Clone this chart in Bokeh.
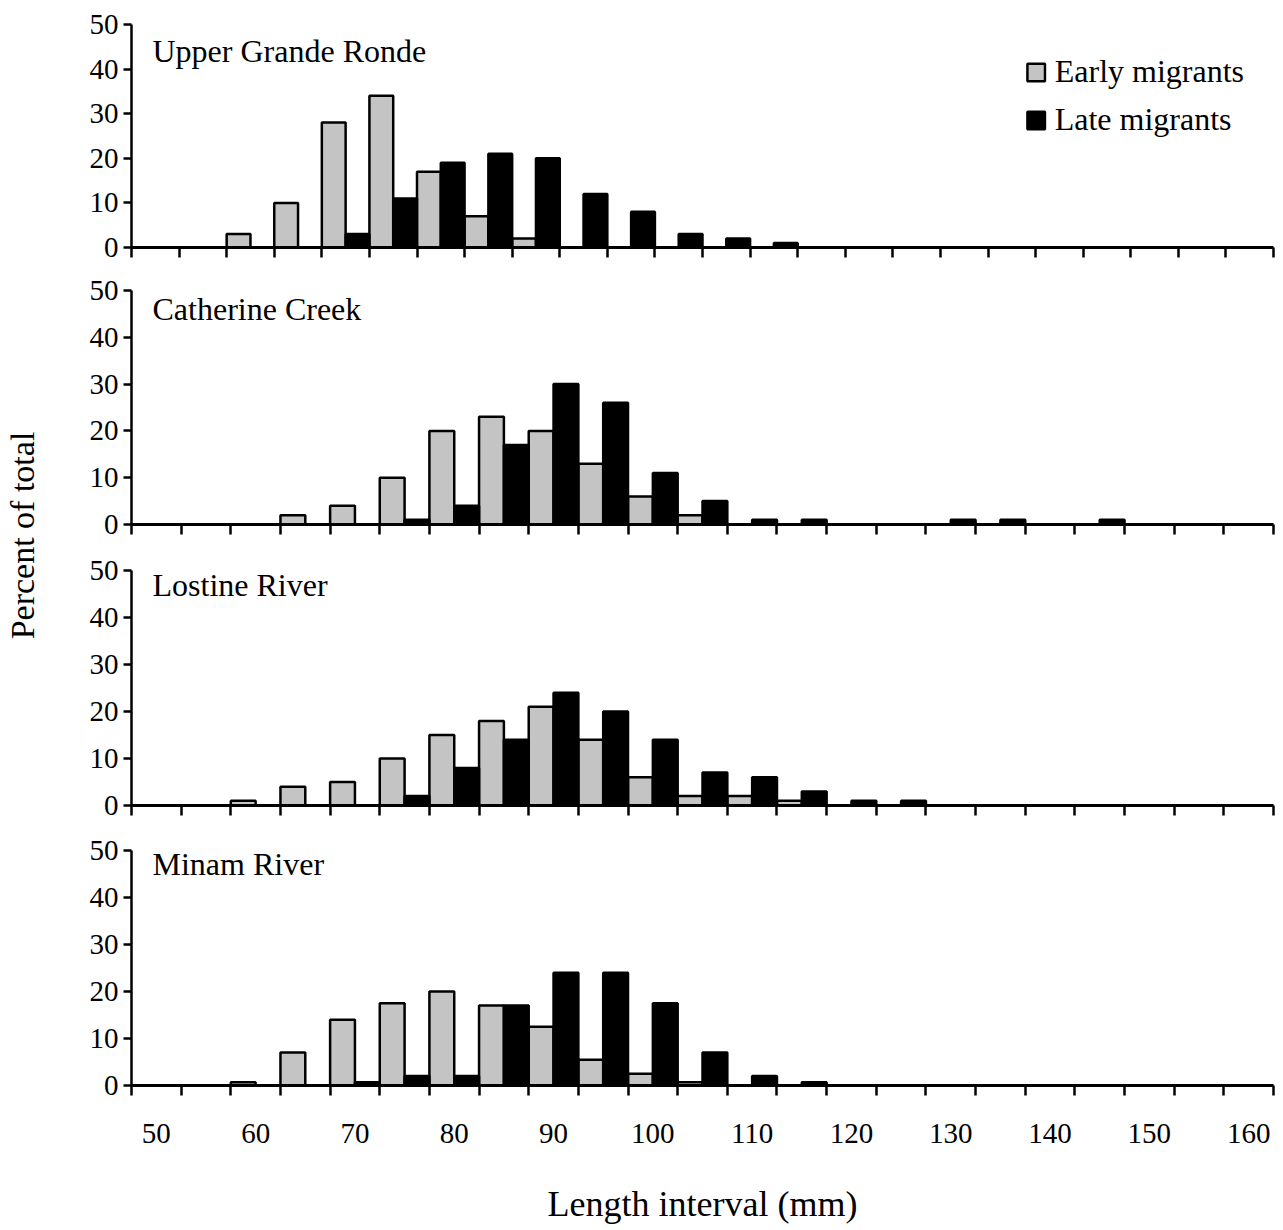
import math
from bokeh.plotting import figure
from bokeh.layouts import column, row
from bokeh.models import Range1d, FixedTicker, Label, Legend, LegendItem, ColumnDataSource
from bokeh.embed import file_html
from bokeh.resources import INLINE

# ---------------- data ----------------
bins_top = list(range(50, 170, 5))   # 24 length intervals (top panel)
bins = list(range(50, 165, 5))       # 23 length intervals (other panels)
tick_values = [50, 60, 70, 80, 90, 100, 110, 120, 130, 140, 150, 160]
tick_labels = ["50", "60", "70", "80", "90", "100", "110", "120", "130", "140", "150", "160"]

panel_names = ["Upper Grande Ronde", "Catherine Creek", "Lostine River", "Minam River"]
series_names = ["Early migrants", "Late migrants"]

ugr_early = [0, 0, 3, 10, 28, 34, 17, 7, 2, 0, 0, 0, 0, 0, 0, 0, 0, 0, 0, 0, 0, 0, 0, 0]
ugr_late = [0, 0, 0, 0, 3, 11, 19, 21, 20, 12, 8, 3, 2, 1, 0, 0, 0, 0, 0, 0, 0, 0, 0, 0]

cc_early = [0, 0, 0, 2, 4, 10, 20, 23, 20, 13, 6, 2, 0, 0, 0, 0, 0, 0, 0, 0, 0, 0, 0]
cc_late = [0, 0, 0, 0, 0, 1, 4, 17, 30, 26, 11, 5, 1, 1, 0, 0, 1, 1, 0, 1, 0, 0, 0]

lr_early = [0, 0, 1, 4, 5, 10, 15, 18, 21, 14, 6, 2, 2, 1, 0, 0, 0, 0, 0, 0, 0, 0, 0]
lr_late = [0, 0, 0, 0, 0, 2, 8, 14, 24, 20, 14, 7, 6, 3, 1, 1, 0, 0, 0, 0, 0, 0, 0]

mr_early = [0, 0, 0.7, 7, 14, 17.5, 20, 17, 12.5, 5.5, 2.5, 0.7, 0, 0, 0, 0, 0, 0, 0, 0, 0, 0, 0]
mr_late = [0, 0, 0, 0, 0.7, 2, 2, 17, 24, 24, 17.5, 7, 2, 0.7, 0, 0, 0, 0, 0, 0, 0, 0, 0]

# ---------------- style ----------------
FONT = "Liberation Serif"
EARLY_FILL = "#c4c4c4"
LATE_FILL = "#000000"
BIN = 5


def make_panel(name, bin_list, early, late, height, top, bottom, show_labels, title_offset):
    x0 = bin_list[0]
    x1 = bin_list[-1] + BIN
    p = figure(width=1243, height=height, x_range=Range1d(x0, x1), y_range=Range1d(0, 50),
               output_backend="svg", toolbar_location=None,
               min_border_left=91, min_border_right=10,
               min_border_top=top, min_border_bottom=bottom)
    p.outline_line_color = None
    p.xgrid.visible = False
    p.ygrid.visible = False
    p.background_fill_color = "white"
    p.border_fill_color = "white"

    src = ColumnDataSource(dict(
        xe=[b + BIN * 0.25 for b in bin_list],
        xl=[b + BIN * 0.75 for b in bin_list],
        early=early, late=late))
    r_e = p.vbar(x="xe", top="early", width=BIN / 2, bottom=0, source=src,
                 fill_color=EARLY_FILL, line_color="black", line_width=2.5)
    r_l = p.vbar(x="xl", top="late", width=BIN / 2, bottom=0, source=src,
                 fill_color=LATE_FILL, line_color="black", line_width=2.5)

    xa = p.xaxis[0]
    centers = [v + BIN / 2 for v in tick_values] if show_labels else []
    xa.ticker = FixedTicker(ticks=centers, minor_ticks=bin_list + [x1])
    xa.major_label_overrides = {v + BIN / 2: t for v, t in zip(tick_values, tick_labels)}
    xa.major_tick_out = 0
    xa.major_tick_in = 0
    xa.minor_tick_out = 10
    xa.minor_tick_in = 0
    xa.minor_tick_line_width = 2.5
    xa.minor_tick_line_color = "black"
    xa.axis_line_width = 3
    xa.axis_line_color = "black"
    xa.major_label_text_font = FONT
    xa.major_label_text_font_size = "29px"
    xa.major_label_text_color = "black"
    xa.major_label_standoff = 28

    ya = p.yaxis[0]
    ya.ticker = FixedTicker(ticks=[0, 10, 20, 30, 40, 50], minor_ticks=[])
    ya.major_tick_out = 8
    ya.major_tick_in = 0
    ya.major_tick_line_width = 2.5
    ya.major_tick_line_color = "black"
    ya.minor_tick_out = 0
    ya.axis_line_width = 2.5
    ya.axis_line_color = "black"
    ya.major_label_text_font = FONT
    ya.major_label_text_font_size = "29px"
    ya.major_label_text_color = "black"
    ya.major_label_standoff = 5

    fh = height - top - bottom
    p.add_layout(Label(x=21, y=fh - title_offset, x_units="screen", y_units="screen",
                       text=name, text_font=FONT, text_font_size="32px",
                       text_color="black", text_baseline="middle", text_align="left"))
    return p, r_e, r_l


f1, e1, l1 = make_panel(panel_names[0], bins_top, ugr_early, ugr_late, 268, 24, 21, False, 26)
f2, _, _ = make_panel(panel_names[1], bins, cc_early, cc_late, 279, 22, 23, False, 18)
f3, _, _ = make_panel(panel_names[2], bins, lr_early, lr_late, 281, 23, 23, False, 14)
f4, _, _ = make_panel(panel_names[3], bins, mr_early, mr_late, 402, 22, 145, True, 13)

leg = Legend(items=[LegendItem(label=series_names[0], renderers=[e1]),
                    LegendItem(label=series_names[1], renderers=[l1])],
             location="top_right", border_line_color=None, background_fill_alpha=0,
             label_text_font=FONT, label_text_font_size="32px", label_text_color="black",
             glyph_width=22, glyph_height=22, label_standoff=8, spacing=11,
             padding=0, margin=29)
f1.add_layout(leg)

xa4 = f4.xaxis[0]
xa4.axis_label = "Length interval (mm)"
xa4.axis_label_text_font = FONT
xa4.axis_label_text_font_size = "36px"
xa4.axis_label_text_font_style = "normal"
xa4.axis_label_text_color = "black"
xa4.axis_label_standoff = 38

lp = figure(width=40, height=1230, x_range=Range1d(0, 1), y_range=Range1d(0, 1),
            output_backend="svg", toolbar_location=None, min_border=0,
            x_axis_type=None, y_axis_type=None)
lp.outline_line_color = None
lp.xgrid.visible = False
lp.ygrid.visible = False
lp.add_layout(Label(x=22, y=1230 - 535, x_units="screen", y_units="screen",
                    text="Percent of total", angle=math.pi / 2, text_font=FONT,
                    text_font_size="34px", text_color="black",
                    text_align="center", text_baseline="middle"))

layout = row(lp, column(f1, f2, f3, f4, spacing=0), spacing=0)

with open("out.html", "w") as fh:
    fh.write(file_html(layout, INLINE))
